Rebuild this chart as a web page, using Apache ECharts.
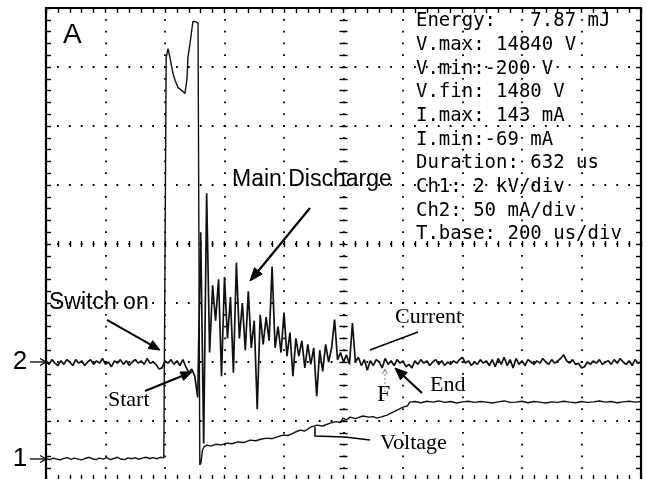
<!DOCTYPE html>
<html>
<head>
<meta charset="utf-8">
<script src="https://cdn.jsdelivr.net/npm/echarts@6/dist/echarts.min.js"></script>
<style>
html,body{margin:0;padding:0;background:#fff;}
#chart{width:653px;height:479px;}
</style>
</head>
<body>
<div id="chart"></div>
<script>
// ---------------- DATA ----------------
// Oscilloscope settings: 200 us/div (10 div), Ch1 2 kV/div, Ch2 50 mA/div
const timeRangeUs = [0, 2000];
const voltageRangeKV = [-0.71, 15.29];   // Ch1 ground marker "1" sits 0.36 div above bottom
const currentRangeMA = [-100, 300];      // Ch2 ground marker "2" sits 2 div above bottom

// Ch2 (current, mA) sampled every 10 us
const currentSampleUs = 10;
const currentMA = [
  1,-2,2,-1,-3,1,-2,2,0,-3,
  2,-1,1,-3,0,2,-2,1,-1,3,
  -2,0,-4,1,-1,2,-2,1,-3,0,
  2,-1,1,-2,3,-1,0,-2,-6,-5,
  1,-1,2,-2,1,-3,2,-4,-9,-6,
  -12,-30,110,-69,143,8,65,35,70,-12,
  72,20,55,-9,84,20,50,10,60,12,
  35,-40,40,15,38,18,81,12,30,8,
  42,5,25,-12,20,5,18,-5,15,-2,
  12,-29,10,-8,15,0,12,36,2,8,
  0,6,-2,33,0,4,-3,2,-7,1,
  -3,2,0,-5,3,-2,1,-3,2,-1,
  1,-4,-2,-5,1,-2,2,-1,1,-3,
  0,2,-2,1,-3,0,-2,1,-1,2,
  4,-1,1,-3,0,-2,2,-1,1,-3,
  2,-4,3,-2,4,-3,2,-5,3,-2,
  1,-3,2,0,-2,1,-1,3,0,-2,
  2,-1,1,3,6,1,-1,2,-2,-1,
  -5,-4,0,-2,1,-1,2,-2,0,1,
  -2,2,-1,3,0,-2,1,-3,2,-1,
  0
];

// Ch1 (voltage) : [time us, kV]
const voltageTrace = [
  [0,0.02],[12,-0.02],[24,0.03],[36,0],[48,-0.03],[60,0.02],[72,0.05],[84,-0.01],[96,0.03],[108,0],
  [120,-0.03],[132,0.02],[144,0.06],[156,0.01],[168,-0.02],[180,0.03],[192,0],[204,0.05],[216,-0.02],[228,0.02],
  [240,0.06],[252,0],[264,-0.02],[276,0.04],[288,0.01],[300,0.05],[312,-0.01],[324,0.03],[336,0.06],[348,0.02],
  [360,0.05],[372,0.01],[384,0.06],[396,0.04],[402,0.08],
  [404,13.6],[410,13.91],[417,13.6],[427,13.06],[434,12.83],[444,12.59],[457,12.49],[467,12.39],[471,12.35],
  [474,12.9],[477,13.6],[484,14.08],[491,14.62],[494,14.84],[504,14.82],[511,14.78],[514,14.75],
  [517,-0.2],[521,-0.12],[526,0.3],[531,0.41],[541,0.47],[555,0.44],[570,0.5],[590,0.48],[608,0.54],[625,0.52],
  [645,0.58],[665,0.56],[686,0.64],[705,0.62],[725,0.68],[743,0.71],[760,0.69],[780,0.76],[797,0.81],[815,0.8],
  [835,0.9],[854,0.98],[870,0.95],[890,1.08],[911,1.15],[930,1.12],[955,1.22],[975,1.27],[990,1.24],[998,1.39],
  [1010,1.33],[1022,1.42],[1040,1.37],[1065,1.46],[1085,1.42],[1100,1.44],[1112,1.39],[1130,1.44],[1146,1.49],
  [1165,1.58],[1180,1.66],[1200,1.76],[1215,1.8],[1223,1.93],
  [1240,1.95],[1260,1.91],[1280,1.96],[1300,1.93],[1320,1.97],[1340,1.92],[1360,1.95],[1380,1.9],[1400,1.94],
  [1420,1.96],[1440,1.92],[1460,1.95],[1480,1.93],[1500,1.9],[1520,1.94],[1540,1.97],[1560,1.92],[1580,1.93],
  [1600,1.96],[1620,1.91],[1640,1.95],[1660,1.93],[1680,1.9],[1700,1.94],[1720,1.92],[1740,1.96],[1760,1.93],
  [1780,1.91],[1800,1.95],[1820,1.92],[1840,1.94],[1860,1.97],[1880,1.93],[1900,1.95],[1920,1.91],[1940,1.94],
  [1960,1.96],[1980,1.93],[2000,1.95]
];

// On-screen measurement readout
const readoutLines = [
  "Energy:   7.87 mJ",
  "V.max: 14840 V",
  "V.min:-200 V",
  "V.fin: 1480 V",
  "I.max: 143 mA",
  "I.min:-69 mA",
  "Duration: 632 us",
  "Ch1: 2 kV/div",
  "Ch2: 50 mA/div",
  "T.base: 200 us/div"
];

// ---------------- CHART ----------------
const chart = echarts.init(document.getElementById('chart'), null, {renderer: 'canvas'});

const BLACK = '#000';
const dotV = {color: BLACK, width: 1.8, type: [1.8, 10.0], dashOffset: 0.9};
const dotH = {color: BLACK, width: 1.8, type: [1.8, 10.1], dashOffset: 0.9};

function grat(dimMin, dimMax, extra) {
  const base = {
    type: 'value', gridIndex: 0, min: dimMin, max: dimMax, interval: 1,
    axisLabel: {show: false},
    splitLine: {show: false},
    axisLine: {show: true, onZero: false, lineStyle: {color: BLACK, width: 2.2}},
    axisTick: {show: true, inside: true, length: 5, lineStyle: {color: BLACK, width: 1.4}},
    minorTick: {show: true, splitNumber: 5, length: 5, lineStyle: {color: BLACK, width: 1.4}},
    minorSplitLine: {show: false}
  };
  return Object.assign(base, extra);
}
function center(dimMin, dimMax, position, inside, len) {
  return grat(dimMin, dimMax, {
    position: position,
    axisLine: {show: true, onZero: true, onZeroAxisIndex: 0, lineStyle: {color: BLACK, width: 0, opacity: 0}},
    axisTick: {show: true, inside: inside, length: len, lineStyle: {color: BLACK, width: 1.4}},
    minorTick: {show: true, splitNumber: 5, length: len, lineStyle: {color: BLACK, width: 1.4}}
  });
}

const option = {
  animation: false,
  backgroundColor: '#fff',
  grid: {left: 46, top: 8, width: 595, height: 472, containLabel: false, outerBoundsMode: 'none'},
  xAxis: [
    grat(-5, 5, {position: 'bottom', splitLine: {show: true, lineStyle: dotV}}),
    grat(-5, 5, {position: 'top'}),
    center(-5, 5, 'bottom', true, 3),
    center(-5, 5, 'bottom', false, 3),
    {type: 'value', gridIndex: 0, min: timeRangeUs[0], max: timeRangeUs[1], show: false,
     splitLine: {show: false}, axisLine: {onZero: false}}
  ],
  yAxis: [
    grat(-4, 4, {position: 'left', splitLine: {show: true, lineStyle: dotH}}),
    grat(-4, 4, {position: 'right'}),
    center(-4, 4, 'left', true, 4),
    center(-4, 4, 'left', false, 4),
    {type: 'value', gridIndex: 0, min: voltageRangeKV[0], max: voltageRangeKV[1], show: false,
     splitLine: {show: false}, axisLine: {onZero: false}},
    {type: 'value', gridIndex: 0, min: currentRangeMA[0], max: currentRangeMA[1], show: false,
     splitLine: {show: false}, axisLine: {onZero: false}}
  ],
  series: [
    {
      name: 'Voltage', type: 'line', xAxisIndex: 4, yAxisIndex: 4,
      data: voltageTrace, symbol: 'none', showSymbol: false,
      lineStyle: {color: '#111', width: 1.4}, z: 5
    },
    {
      name: 'Current', type: 'line', xAxisIndex: 4, yAxisIndex: 5,
      data: currentMA.map((v, i) => [i * currentSampleUs, v]),
      symbol: 'none', showSymbol: false,
      lineStyle: {color: '#111', width: 1.7}, z: 6
    }
  ]
};
chart.setOption(option);

// ---------------- ANNOTATIONS (positions in screen divisions, converted through the graticule axes) ----------------
function P(d) { return chart.convertToPixel({xAxisIndex: 0, yAxisIndex: 0}, d); }

const SANS = '"Liberation Sans", Arial, sans-serif';
const SERIF = '"Liberation Serif", "Times New Roman", serif';
const MONO = '"DejaVu Sans Mono", monospace';

const labels = [
  {t: 'A', d: [-4.714, 3.542], f: '28px ' + SANS},
  {t: 'Main Discharge', d: [-1.874, 1.085], f: '23px ' + SANS},
  {t: 'Switch on', d: [-4.95, -1.0], f: '23px ' + SANS},
  {t: 'Start', d: [-3.958, -2.644], f: '22px ' + SERIF},
  {t: 'Current', d: [0.866, -1.237], f: '22px ' + SERIF},
  {t: 'End', d: [1.454, -2.39], f: '22px ' + SERIF},
  {t: 'F', d: [0.563, -2.559], f: '24px ' + SERIF},
  {t: 'Voltage', d: [0.613, -3.373], f: '22px ' + SERIF},
  {t: '2', d: [-5.56, -2.0], f: '26px ' + SANS},
  {t: '1', d: [-5.56, -3.644], f: '26px ' + SANS}
];
readoutLines.forEach((s, i) => labels.push({t: s, d: [1.218, 3.771 - i * 0.401], f: '19px ' + MONO}));

const arrows = [
  {a: [-0.563, 0.610], b: [-1.571, -0.627], w: 2.2, head: 'solid', hl: 13, hw: 5},
  {a: [-3.975, -1.288], b: [-3.084, -1.797], w: 2, head: 'solid', hl: 11, hw: 4.5},
  {a: [-3.336, -2.492], b: [-2.546, -2.169], w: 2, head: 'solid', hl: 11, hw: 4.5},
  {a: [1.319, -2.525], b: [0.866, -2.102], w: 2.2, head: 'solid', hl: 12, hw: 5},
  {a: [1.252, -1.492], b: [0.445, -1.797], w: 1.5, head: 'none'},
  {a: [-5.27, -2.0], b: [-5.0, -2.0], w: 1.3, head: 'open', hl: 6, hw: 3.5},
  {a: [-5.27, -3.644], b: [-5.0, -3.644], w: 1.3, head: 'open', hl: 6, hw: 3.5},
  {a: [0.697, -2.508], b: [0.697, -2.119], w: 1, head: 'open', hl: 5, hw: 2.5, color: '#888', dash: [2, 2]}
];
const voltagePointer = [[-0.479, -3.102], [-0.479, -3.254], [0.025, -3.271], [0.445, -3.322]];

const elements = [];
labels.forEach(l => {
  const p = P(l.d);
  elements.push({type: 'text', x: p[0], y: p[1], silent: true, z: 100,
    style: {text: l.t, font: l.f, fill: BLACK, align: 'left', verticalAlign: 'middle'}});
});
arrows.forEach(ar => {
  const a = P(ar.a), b = P(ar.b);
  const col = ar.color || BLACK;
  const dx = b[0] - a[0], dy = b[1] - a[1];
  const L = Math.sqrt(dx * dx + dy * dy);
  const ux = dx / L, uy = dy / L, nx = -uy, ny = ux;
  let end = b;
  if (ar.head === 'solid') end = [b[0] - ux * ar.hl * 0.8, b[1] - uy * ar.hl * 0.8];
  elements.push({type: 'polyline', silent: true, z: 100, shape: {points: [a, end]},
    style: {stroke: col, lineWidth: ar.w, fill: null, lineDash: ar.dash || null}});
  if (ar.head !== 'none') {
    const bx = b[0] - ux * ar.hl, by = b[1] - uy * ar.hl;
    const p1 = [bx + nx * ar.hw, by + ny * ar.hw], p2 = [bx - nx * ar.hw, by - ny * ar.hw];
    if (ar.head === 'solid') {
      elements.push({type: 'polygon', silent: true, z: 100, shape: {points: [p1, b, p2]},
        style: {fill: col, stroke: col, lineWidth: 1}});
    } else {
      elements.push({type: 'polyline', silent: true, z: 100, shape: {points: [p1, b, p2]},
        style: {stroke: col, lineWidth: ar.w, fill: null}});
    }
  }
});
elements.push({type: 'polyline', silent: true, z: 100, shape: {points: voltagePointer.map(P)},
  style: {stroke: BLACK, lineWidth: 1.5, fill: null}});

chart.setOption({graphic: {elements: elements}});
</script>
</body>
</html>
